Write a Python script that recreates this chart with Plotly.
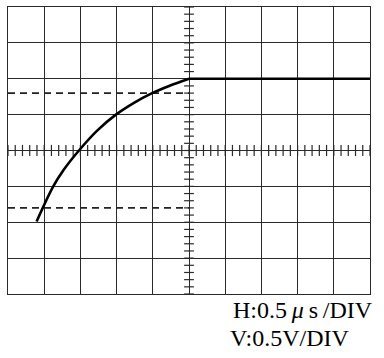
import numpy as np
import plotly.graph_objects as go

# Waveform in divisions (H: 0.5 us/DIV, V: 0.5 V/DIV)
curve_t = [-4.21, -3.75, -3.47, -3.04, -2.53, -2.02, -1.52, -1.02, -0.55, 0.0]
curve_v = [-1.98, -1.0, -0.55, 0.0, 0.56, 1.0, 1.33, 1.6, 1.8, 2.0]
flat_t = [0.0, 5.0]
flat_v = [2.0, 2.0]

# 10% / 90% reference levels
ref_levels = [1.6, -1.6]
ref_t = [-5.0, 0.0]

# Minor graticule ticks on center axes (5 per division)
minor_x = list(np.round(np.arange(-5, 5.001, 0.2), 2))
minor_y = list(np.round(np.arange(-4, 4.001, 0.2), 2))

label_h = "H:0.5\u2009<i>\u03bc</i>\u2009s\u2009/DIV"
label_v = "V:0.5V/DIV"

grid_col = "#2a2a2a"

fig = go.Figure()

for lv in ref_levels:
    fig.add_trace(go.Scatter(x=ref_t, y=[lv, lv], mode="lines",
                             line=dict(color="#222", width=1.6, dash="7px,5px"),
                             hoverinfo="skip"))

fig.add_trace(go.Scatter(x=minor_x, y=[0] * len(minor_x), mode="markers",
                         marker=dict(symbol="line-ns-open", size=8, color=grid_col,
                                     line=dict(color=grid_col, width=1.2)),
                         hoverinfo="skip"))
fig.add_trace(go.Scatter(x=[0] * len(minor_y), y=minor_y, mode="markers",
                         marker=dict(symbol="line-ew-open", size=7, color=grid_col,
                                     line=dict(color=grid_col, width=1.2)),
                         hoverinfo="skip"))

fig.add_trace(go.Scatter(x=curve_t, y=curve_v, mode="lines",
                         line=dict(color="black", width=2.6, shape="spline", smoothing=1.0)))
fig.add_trace(go.Scatter(x=flat_t, y=flat_v, mode="lines",
                         line=dict(color="black", width=2.6)))

axis_common = dict(showticklabels=False, ticks="", zeroline=True,
                   zerolinecolor=grid_col, zerolinewidth=1.3,
                   showgrid=True, gridcolor=grid_col, gridwidth=1.3,
                   showline=True, linecolor=grid_col, linewidth=1.3, mirror=True,
                   dtick=1, fixedrange=True)

fig.update_layout(
    width=384, height=358,
    margin=dict(l=8, r=14, t=7, b=64),
    paper_bgcolor="white", plot_bgcolor="white",
    showlegend=False,
    xaxis=dict(range=[-5, 5], tick0=-5, **axis_common),
    yaxis=dict(range=[-4, 4], tick0=-4, **axis_common),
    font=dict(family="Liberation Serif, Times New Roman, serif", color="black"),
    annotations=[
        dict(text=label_h, xref="paper", yref="paper", x=1.0135, y=-0.055,
             xanchor="right", yanchor="middle", showarrow=False,
             font=dict(size=24, family="Liberation Serif, serif", color="black")),
        dict(text=label_v, xref="paper", yref="paper", x=0.951, y=-0.153,
             xanchor="right", yanchor="middle", showarrow=False,
             font=dict(size=24, family="Liberation Serif, serif", color="black")),
    ],
)

fig.write_html("out.html")
